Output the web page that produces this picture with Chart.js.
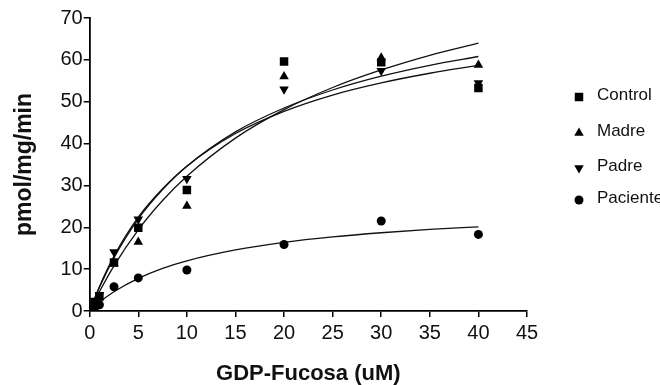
<!DOCTYPE html>
<html>
<head>
<meta charset="utf-8">
<script src="https://cdn.jsdelivr.net/npm/chart.js@4/dist/chart.umd.min.js"></script>
<style>
  html, body { margin: 0; padding: 0; background: #fff; }
  #wrap { width: 660px; height: 385px; }
</style>
</head>
<body>
<div id="wrap"><canvas id="kinChart"></canvas></div>
<script>
// GDP-fucosa concentrations (uM)
const doses = [0, 0.5, 1, 2.5, 5, 10, 20, 30, 40];
// measured activity, pmol/mg/min
const control  = [0, 2.0, 3.5, 11.6, 19.9, 28.9, 59.6, 59.4, 53.3];
const madre    = [0, 1.8, 3.2, 11.3, 16.5, 25.1, 56.0, 60.5, 58.8];
const padre    = [0, 2.5, 3.8, 14.1, 21.9, 31.6, 53.0, 57.4, 54.5];
const paciente = [0, 0.8, 1.5, 5.8, 7.9, 9.8, 15.9, 21.5, 18.3];

// fitted curves
const fitX        = [0, 1, 2.5, 5, 7.5, 10, 15, 20, 25, 30, 35, 40];
const fitControl  = [0, 5.6, 12.7, 22.0, 29.0, 34.6, 42.8, 48.5, 52.8, 56.1, 58.7, 60.8];
const fitMadre    = [0, 4.6, 10.8, 19.4, 26.4, 32.2, 41.3, 48.1, 53.4, 57.6, 61.1, 64.0];
const fitPadre    = [0, 5.8, 13.1, 22.4, 29.2, 34.6, 42.4, 47.7, 51.6, 54.5, 56.8, 58.7];
const fitPaciente = [0, 2.1, 4.6, 7.8, 10.2, 12.0, 14.6, 16.4, 17.7, 18.7, 19.5, 20.1];

// tick labels
const xTicks = [0, 5, 10, 15, 20, 25, 30, 35, 40, 45];
const yTicks = [0, 10, 20, 30, 40, 50, 60, 70];

const FONT = "'Liberation Sans', Arial, Helvetica, sans-serif";

function pts(xs, ys) {
    return xs.map(function(x, i) { return { x: x, y: ys[i] }; });
}

function markers(label, ys, style, radius, rotation) {
    return {
        type: 'scatter',
        label: label,
        data: pts(doses, ys),
        pointStyle: style,
        pointRadius: radius,
        pointRotation: rotation || 0,
        backgroundColor: '#000',
        borderColor: '#000',
        borderWidth: 0,
        showLine: false
    };
}

function curve(ys) {
    return {
        type: 'line',
        label: '',
        data: pts(fitX, ys),
        borderColor: '#111',
        borderWidth: 1.3,
        pointRadius: 0,
        fill: false,
        cubicInterpolationMode: 'monotone'
    };
}

// legend on the right, drawn by hand
const sideLegend = {
    id: 'sideLegend',
    afterDraw: function(chart) {
        const ctx = chart.ctx;
        const rows = [95, 131, 166, 198];
        ctx.save();
        chart.data.datasets.filter(function(d) { return d.type === 'scatter'; }).forEach(function(d, i) {
            ctx.fillStyle = '#000';
            Chart.helpers.drawPoint(ctx, {
                pointStyle: d.pointStyle,
                radius: d.pointRadius,
                rotation: d.pointRotation,
                borderWidth: 0
            }, 579, rows[i] + 2);
            ctx.font = '17px ' + FONT;
            ctx.textBaseline = 'middle';
            ctx.fillStyle = '#111';
            ctx.fillText(d.label, 597, rows[i]);
        });
        ctx.restore();
    }
};

new Chart(document.getElementById('kinChart'), {
    data: {
        datasets: [
            markers('Control', control, 'rect', 6),
            markers('Madre', madre, 'triangle', 5.5),
            markers('Padre', padre, 'triangle', 5.5, 180),
            markers('Paciente', paciente, 'circle', 4.5),
            curve(fitControl),
            curve(fitMadre),
            curve(fitPadre),
            curve(fitPaciente)
        ]
    },
    options: {
        responsive: true,
        maintainAspectRatio: false,
        animation: false,
        layout: { padding: { left: 11, right: 133, top: 18, bottom: 0 } },
        plugins: {
            legend: { display: false },
            tooltip: { enabled: false }
        },
        scales: {
            x: {
                type: 'linear',
                min: 0,
                max: 45,
                afterBuildTicks: function(axis) {
                    axis.ticks = xTicks.map(function(v) { return { value: v }; });
                },
                grid: { display: true, drawOnChartArea: false, drawTicks: true, tickLength: 6, color: '#000', lineWidth: 1.5 },
                border: { color: '#000', width: 1.8 },
                ticks: { color: '#111', font: { family: FONT, size: 20 }, padding: 4, maxRotation: 0 },
                title: { display: true, text: 'GDP-Fucosa (uM)', color: '#111', font: { family: FONT, size: 22, weight: 'bold', lineHeight: 1.0 }, padding: { top: 14, bottom: 0 } }
            },
            y: {
                type: 'linear',
                min: 0,
                max: 70,
                afterBuildTicks: function(axis) {
                    axis.ticks = yTicks.map(function(v) { return { value: v }; });
                },
                grid: { display: true, drawOnChartArea: false, drawTicks: true, tickLength: 6, color: '#000', lineWidth: 1.5 },
                border: { color: '#000', width: 1.8 },
                ticks: { color: '#111', font: { family: FONT, size: 20 }, padding: 1 },
                title: { display: true, text: 'pmol/mg/min', color: '#111', font: { family: FONT, size: 23, weight: 'bold', lineHeight: 1.15 }, padding: { top: 0, bottom: 22 } }
            }
        }
    },
    plugins: [sideLegend]
});
</script>
</body>
</html>
